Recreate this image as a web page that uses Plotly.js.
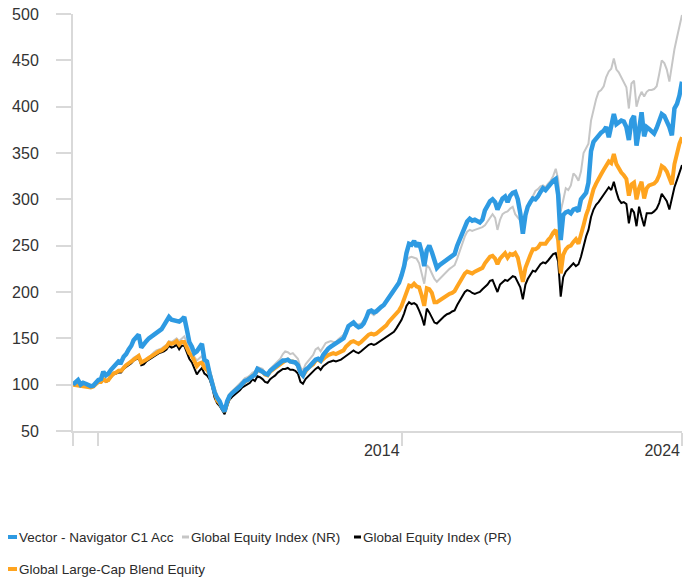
<!DOCTYPE html>
<html><head><meta charset="utf-8">
<script src="https://cdn.plot.ly/plotly-3.0.1.min.js"></script>
<style>html,body{margin:0;padding:0;background:#fff;} #chart{width:691px;height:579px;}</style>
</head><body><div id="chart"></div>
<script>
// Monthly growth of 100, first point = end of Feb 2004 (dated 2004-03-01), last = end of Mar 2024
const startYear = 2004, startMonth = 3;

const fundName = 'Vector - Navigator C1 Acc';
const nrName = 'Global Equity Index (NR)';
const prName = 'Global Equity Index (PR)';
const catName = 'Global Large-Cap Blend Equity';

const fund = [
100,103,105,100,102,101,99,98.5,99,102,105,106,
114,110,112,116,120,122,125,124,130,133,138,142,
148,152,154,140,144,147,150,152,155,157,158,160,
164,168,173,170,169,168,168,170,173,160,146,141,
134,136,140,144,127,125,112,101,92,86,82,75,
71,82,88,91,93,96,98,101,104,105,107,110,
111,117,116,114,112,111,115,117,119,122,124,126,
126,127,125,124,124,121,113,110,116,118,121,124,
127,128,126,132,136,139,141,143,145,147,148,150,
156,163,165,167,164,162,163,166,172,179,180,178,
179,182,184,186,190,194,197,201,207,210,218,228,
242,252,251,255,249,253,243,228,245,250,243,233,
226,229,231,233,236,238,240,241,250,256,262,270,
276,279,277,278,276,275,278,288,293,298,300,297,
289,296,301,303,297,304,307,308,300,285,263,283,
292,297,301,300,303,308,312,310,314,316,320,322,
305,256,283,286,287,285,289,290,287,300,303,307,
318,352,362,366,369,372,374,378,367,380,392,381,
383,385,384,378,364,385,390,358,375,394,368,378,
376,374,371,377,385,392,390,384,378,369,398,403,
412,427];

const indexNR = [
100,101,101.5,99,100,100,99,98,99,101,103,104,
107,105,106,110,113,114,116,116,120,122,124,126,
129,131,132,126,125,128,130,132,135,137,138,139,
141,143,147,146,148,150,147,149,152,146,140,136,
130,126,129,131,122,118,117,107,93,86,82,77,
72,83,90,93,96,99,101,104,107,108,110,113,
114,119,118,117,113,112,117,120,123,126,128,133,
136,135,133,134,131,128,119,115,122,125,128,132,
138,140,136,141,145,146,147,146,146,149,151,154,
159,162,166,168,165,165,166,169,173,177,177,175,
177,180,183,185,189,193,196,200,206,211,215,225,
234,237,238,237,236,231,220,209,229,226,220,214,
211,214,216,220,222,225,227,229,236,245,252,260,
265,267,266,267,268,269,270,272,276,281,284,280,
267,278,284,286,287,290,292,284,281,277,265,283,
292,298,304,309,311,314,315,313,317,320,325,333,
322,287,299,312,310,315,328,325,320,330,350,356,
360,385,398,408,416,418,422,432,438,441,452,440,
437,432,426,421,398,425,428,400,410,416,411,416,
418,418,419,422,435,450,447,440,427,445,462,475,
487,499];

const indexPR = [
100,99,99,98,98,97.5,97,97,97.5,100,102,102,
105,103,104,108,111,112,113,113,117,119,121,123,
126,128,129,121,122,125,127,129,131,133,134,135,
136,138,142,140,141,143,138,142,142,135,128,124,
118,111,115,118,112,110,106,98,86,80,77,72,
68,77,84,87,89,92,94,97,99,100,102,106,
104,109,108,106,103,102,106,108,110,113,115,117,
117,118,116,116,115,112,103,101,106,109,111,114,
117,119,116,120,122,124,125,126,125,126,127,129,
131,133,135,137,135,134,136,138,141,143,144,143,
144,146,148,150,151,153,155,157,161,165,170,177,
185,189,187,188,186,180,173,164,182,178,172,167,
166,169,171,174,176,177,179,180,186,191,196,200,
202,201,199,198,199,200,203,205,208,212,213,206,
200,208,211,213,212,215,217,216,210,205,192,208,
214,219,223,222,226,230,232,231,234,237,241,242,
233,195,216,222,225,229,231,228,230,238,250,260,
267,281,289,294,297,301,305,309,313,310,319,308,
300,296,297,295,274,290,286,271,292,281,271,285,
285,285,287,290,296,306,302,298,289,302,313,321,
330,337];

const category = [
100,99.5,99,98,98,97,97,97,98,100,103,103,
106,104,105,109,112,113,115,115,119,121,123,125,
128,130,131,124,125,127,129,131,133,135,136,137,
139,141,145,144,145,147,143,146,146,140,134,131,
125,120,123,124,118,116,112,103,90,83,80,74,
71,80,88,91,93,96,98,101,103,105,107,109,
111,116,115,114,111,110,114,116,118,121,123,125,
126,127,125,125,124,121,113,110,115,118,120,122,
126,127,125,128,130,132,133,134,133,134,135,137,
141,144,146,147,145,144,146,149,151,154,155,154,
155,157,159,161,164,168,171,175,178,180,185,192,
200,207,206,209,206,205,196,185,204,203,199,189,
189,191,193,195,197,198,199,201,206,211,216,220,
222,221,220,222,223,224,226,231,234,238,239,236,
230,236,239,242,237,241,240,242,237,225,211,226,
234,240,246,246,248,252,252,252,256,259,264,267,
256,220,240,246,249,250,254,257,252,264,272,283,
290,301,311,317,321,327,332,336,341,339,349,338,
333,329,326,322,304,316,318,300,312,319,301,312,
315,316,317,320,326,336,334,330,322,316,338,350,
360,367];

const xTickVals = ['2004-03-01','2005-01-01','2015-01-01','2024-04-01'];
const xTickText = ['', '', '2014', '2024'];
const yTickVals = [50,100,150,200,250,300,350,400,450,500];

function monthDates(n){
  const out=[];
  for(let i=0;i<n;i++){
    const t=startMonth-1+i;
    const y=startYear+Math.floor(t/12);
    const mo=t%12+1;
    out.push(y+'-'+String(mo).padStart(2,'0')+'-01');
  }
  return out;
}
const dates = monthDates(fund.length);

const FONT = '"Liberation Sans", Arial, sans-serif';
const COLORS = {fund:'#2e9ae2', nr:'#c6c6c6', pr:'#000000', cat:'#ffa41f'};

const traces = [
  {x:dates, y:indexNR, name:nrName, type:'scatter', mode:'lines', line:{color:COLORS.nr, width:2}},
  {x:dates, y:indexPR, name:prName, type:'scatter', mode:'lines', line:{color:COLORS.pr, width:2}},
  {x:dates, y:category, name:catName, type:'scatter', mode:'lines', line:{color:COLORS.cat, width:4}},
  {x:dates, y:fund, name:fundName, type:'scatter', mode:'lines', line:{color:COLORS.fund, width:4.5}}
];

// Legend drawn below the plot (pixel layout converted to paper coordinates)
const W = 691, H = 579, M = {l:73, r:9, t:14, b:148};
const plotW = W - M.l - M.r, plotH = H - M.t - M.b;
const px2x = p => (p - M.l) / plotW;
const py2y = p => (H - M.b - p) / plotH;
const legendItems = [
  {name:fundName, color:COLORS.fund, lw:4, sx:8, tx:18, ty:537},
  {name:nrName, color:COLORS.nr, lw:3, sx:182, tx:190, ty:537},
  {name:prName, color:COLORS.pr, lw:3, sx:354, tx:362, ty:537},
  {name:catName, color:COLORS.cat, lw:4, sx:8, tx:18, ty:569}
];
const legendShapes = legendItems.map(it => ({
  type:'line', xref:'paper', yref:'paper',
  x0:px2x(it.sx), x1:px2x(it.tx - 1), y0:py2y(it.ty), y1:py2y(it.ty),
  line:{color:it.color, width:it.lw}
}));
const legendAnnotations = legendItems.map(it => ({
  text:it.name, xref:'paper', yref:'paper',
  x:px2x(it.tx), y:py2y(it.ty), xanchor:'left', yanchor:'middle',
  showarrow:false, borderpad:0,
  font:{family:FONT, size:13.5, color:'#2b2b2b'}
}));

const axisGray = '#d9d9d9';
const layout = {
  width:W, height:H,
  margin:M,
  paper_bgcolor:'#fff', plot_bgcolor:'#fff',
  font:{family:FONT, color:'#333'},
  showlegend:false,
  hovermode:false,
  xaxis:{
    type:'date', range:['2004-03-01','2024-04-01'],
    tickmode:'array', tickvals:xTickVals, ticktext:xTickText,
    ticks:'outside', ticklen:13, tickwidth:2, tickcolor:axisGray,
    showline:true, linecolor:axisGray, linewidth:2,
    showgrid:false, zeroline:false,
    ticklabelposition:'outside left',
    ticklabelstandoff:4,
    tickfont:{family:FONT, size:16, color:'#333'}
  },
  yaxis:{
    range:[50,500], tickmode:'array', tickvals:yTickVals,
    ticks:'outside', ticklen:15, tickwidth:2, tickcolor:axisGray,
    showline:true, linecolor:axisGray, linewidth:2,
    showgrid:false, zeroline:false,
    ticklabelstandoff:14,
    tickfont:{family:FONT, size:16, color:'#333'}
  },
  shapes:legendShapes,
  annotations:legendAnnotations
};

Plotly.newPlot('chart', traces, layout, {displayModeBar:false, staticPlot:true});
</script>
</body></html>
